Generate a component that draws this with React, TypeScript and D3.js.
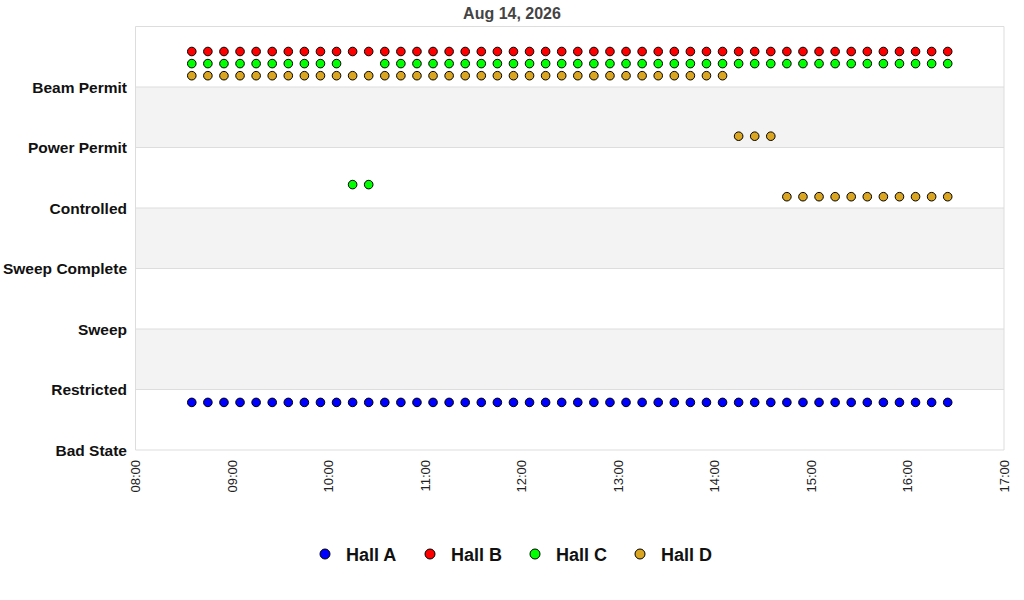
import React from "react";
import * as d3 from "d3";

const title = "Aug 14, 2026";
const stateLabels = ["Bad State", "Restricted", "Sweep", "Sweep Complete", "Controlled", "Power Permit", "Beam Permit"];
const hourTicks = ["08:00", "09:00", "10:00", "11:00", "12:00", "13:00", "14:00", "15:00", "16:00", "17:00"];
const times = [
  "08:35", "08:45", "08:55", "09:05", "09:15", "09:25", "09:35", "09:45", "09:55", "10:05",
  "10:15", "10:25", "10:35", "10:45", "10:55", "11:05", "11:15", "11:25", "11:35", "11:45",
  "11:55", "12:05", "12:15", "12:25", "12:35", "12:45", "12:55", "13:05", "13:15", "13:25",
  "13:35", "13:45", "13:55", "14:05", "14:15", "14:25", "14:35", "14:45", "14:55", "15:05",
  "15:15", "15:25", "15:35", "15:45", "15:55", "16:05", "16:15", "16:25",
];
// state index per time (0 = Bad State ... 6 = Beam Permit)
const hallA = [
  0, 0, 0, 0, 0, 0, 0, 0, 0, 0, 0, 0, 0, 0, 0, 0, 0, 0, 0, 0, 0, 0, 0, 0,
  0, 0, 0, 0, 0, 0, 0, 0, 0, 0, 0, 0, 0, 0, 0, 0, 0, 0, 0, 0, 0, 0, 0, 0,
];
const hallB = [
  6, 6, 6, 6, 6, 6, 6, 6, 6, 6, 6, 6, 6, 6, 6, 6, 6, 6, 6, 6, 6, 6, 6, 6,
  6, 6, 6, 6, 6, 6, 6, 6, 6, 6, 6, 6, 6, 6, 6, 6, 6, 6, 6, 6, 6, 6, 6, 6,
];
const hallC = [
  6, 6, 6, 6, 6, 6, 6, 6, 6, 6, 4, 4, 6, 6, 6, 6, 6, 6, 6, 6, 6, 6, 6, 6,
  6, 6, 6, 6, 6, 6, 6, 6, 6, 6, 6, 6, 6, 6, 6, 6, 6, 6, 6, 6, 6, 6, 6, 6,
];
const hallD = [
  6, 6, 6, 6, 6, 6, 6, 6, 6, 6, 6, 6, 6, 6, 6, 6, 6, 6, 6, 6, 6, 6, 6, 6,
  6, 6, 6, 6, 6, 6, 6, 6, 6, 6, 5, 5, 5, 4, 4, 4, 4, 4, 4, 4, 4, 4, 4, 4,
];
const hallNames = ["Hall A", "Hall B", "Hall C", "Hall D"];
const hallColors = ["#0000ff", "#ff0000", "#00ff00", "#daa520"];
const hallOffsets = [0.8, 0.6, 0.4, 0.2];
const hallValues = [hallA, hallB, hallC, hallD];

const W = 1024;
const H = 600;
const left = 135.5;
const right = 1004;
const top = 26.5;
const bottom = 450;
const font = "'Liberation Sans', Arial, Helvetica, sans-serif";

const parse = d3.timeParse("%Y-%m-%d %H:%M");
const day = "2026-08-14";

export default function App() {
  const x = d3
    .scaleTime()
    .domain([parse(`${day} ${hourTicks[0]}`)!, parse(`${day} ${hourTicks[hourTicks.length - 1]}`)!])
    .range([left, right]);
  const y = d3.scaleLinear().domain([0, stateLabels.length]).range([bottom, top]);
  const bands = d3.range(stateLabels.length);
  const legendX = d3.scalePoint().domain(hallNames).range([325, 640]);

  return (
    <svg
      width={W}
      height={H}
      style={{ position: "absolute", left: 0, top: 0, background: "#fff" }}
      fontFamily={font}
    >
      <rect x={0} y={0} width={W} height={H} fill="#fff" />
      {bands.map((i) => (
        <rect
          key={"b" + i}
          x={left}
          y={y(i + 1)}
          width={right - left}
          height={y(i) - y(i + 1)}
          fill={i % 2 === 1 ? "#f3f3f3" : "#ffffff"}
        />
      ))}
      {bands.map((i) => (
        <line key={"g" + i} x1={left} x2={right} y1={y(i)} y2={y(i)} stroke="#dddddd" strokeWidth={1} />
      ))}
      <line x1={left} x2={right} y1={y(stateLabels.length)} y2={y(stateLabels.length)} stroke="#dddddd" />
      <line x1={left} x2={left} y1={top} y2={bottom} stroke="#dddddd" />
      <line x1={right} x2={right} y1={top} y2={bottom} stroke="#dddddd" />

      {stateLabels.map((s, i) => (
        <text
          key={"yl" + i}
          x={127}
          y={y(i) + 5.8}
          textAnchor="end"
          fontSize={15.5}
          fontWeight="bold"
          fill="#111"
        >
          {s}
        </text>
      ))}

      {hourTicks.map((t) => {
        const tx = x(parse(`${day} ${t}`)!);
        return (
          <text
            key={"xt" + t}
            transform={`translate(${tx + 4.5},${bottom + 10}) rotate(-90)`}
            textAnchor="end"
            fontSize={13}
            fill="#222"
          >
            {t}
          </text>
        );
      })}

      {hallValues.map((vals, h) =>
        vals.map((v, k) => (
          <circle
            key={`p${h}-${k}`}
            cx={x(parse(`${day} ${times[k]}`)!)}
            cy={y(v + hallOffsets[h]) + 0.8}
            r={4.3}
            fill={hallColors[h]}
            stroke="#000"
            strokeWidth={1}
          />
        ))
      )}

      <text x={W / 2} y={19} textAnchor="middle" fontSize={16} fontWeight="bold" fill="#444">
        {title}
      </text>

      {hallNames.map((n, h) => {
        const lx = legendX(n)!;
        return (
          <g key={"lg" + n}>
            <circle cx={lx} cy={554} r={5} fill={hallColors[h]} stroke="#000" strokeWidth={1} />
            <text x={lx + 21} y={561} fontSize={18} fontWeight="bold" fill="#111">
              {n}
            </text>
          </g>
        );
      })}
    </svg>
  );
}
